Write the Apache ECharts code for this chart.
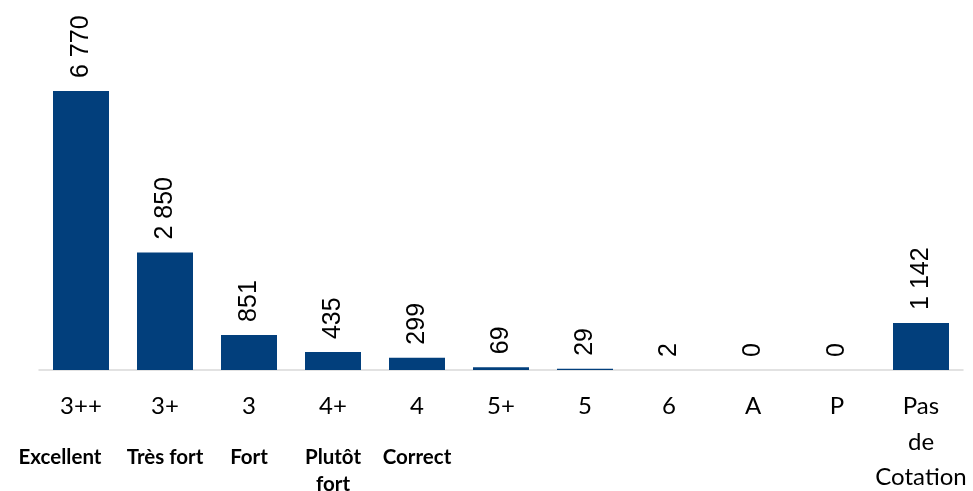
<!DOCTYPE html>
<html>
<head>
<meta charset="utf-8">
<script src="https://cdn.jsdelivr.net/npm/echarts@6/dist/echarts.min.js"></script>
<style>html,body{margin:0;padding:0;background:#fff;}#c{width:973px;height:491px;}</style>
</head>
<body>
<div id="c"></div>
<script>
const categories = ['3++', '3+', '3', '4+', '4', '5+', '5', '6', 'A', 'P', 'Pas de Cotation'];
const subLabels = ['Excellent', 'Très fort', 'Fort', 'Plutôt fort', 'Correct', '', '', '', '', '', ''];
const values = [6770, 2850, 851, 435, 299, 69, 29, 2, 0, 0, 1142];

function fmtNum(v) {
  return String(v).replace(/\B(?=(\d{3})+(?!\d))/g, ' ');
}

const chart = echarts.init(document.getElementById('c'));
chart.setOption({
  animation: false,
  grid: { left: 39, right: 10, top: 81.5, bottom: 121, containLabel: false, outerBoundsMode: 'none' },
  xAxis: {
    type: 'category',
    data: categories,
    axisLine: { lineStyle: { color: '#d9d9d9', width: 1.5 } },
    axisTick: { show: false },
    axisLabel: {
      interval: 0,
      margin: 19,
      formatter: function (val, idx) {
        let s;
        if (val === 'Pas de Cotation') {
          s = '{a|Pas}\n{a|de}\n{a|Cotation}';
        } else {
          s = '{a|' + val + '}';
        }
        const sub = subLabels[idx];
        if (sub) {
          const parts = sub === 'Plutôt fort' ? ['Plutôt', 'fort'] : [sub];
          s += '\n{s| }';
          parts.forEach(p => { s += '\n{' + (idx === 0 ? 'b0' : 'b') + '|' + p + '}'; });
        }
        return s;
      },
      rich: {
        a: { fontFamily: 'Lato', fontSize: 24, lineHeight: 35.5, color: '#000' },
        s: { fontSize: 2, lineHeight: 19 },
        b: { fontFamily: 'Lato', fontSize: 20.5, fontWeight: 'bold', lineHeight: 27, color: '#000' },
        b0: { fontFamily: 'Lato', fontSize: 20.5, fontWeight: 'bold', lineHeight: 27, color: '#000', padding: [0, 42, 0, 0] }
      }
    }
  },
  yAxis: {
    type: 'value',
    min: 0,
    max: 7000,
    show: false,
    splitLine: { show: false }
  },
  series: [{
    type: 'bar',
    data: values,
    barWidth: 56,
    itemStyle: { color: '#023f7c' },
    label: {
      show: true,
      position: 'top',
      rotate: 90,
      align: 'left',
      verticalAlign: 'middle',
      distance: 13,
      fontFamily: 'Liberation Sans',
      fontSize: 25,
      color: '#000',
      formatter: p => fmtNum(p.value)
    }
  }]
});
</script>
</body>
</html>
